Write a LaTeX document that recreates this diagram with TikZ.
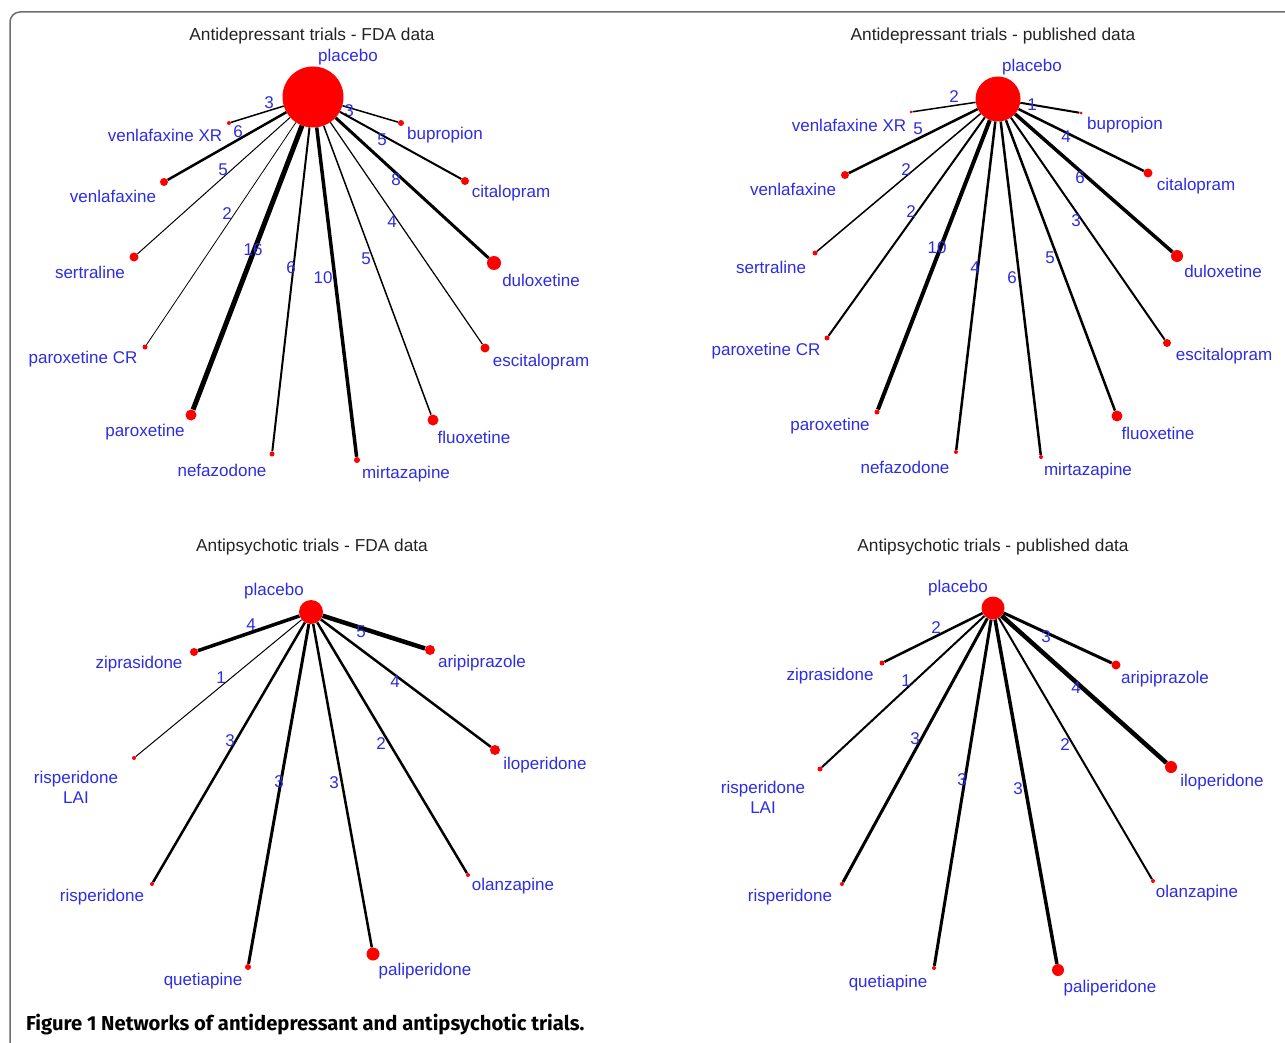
\documentclass[tikz,border=0pt]{standalone}
\usepackage{fontspec}
\setmainfont{Liberation Sans}
\newfontfamily\capfont{Fira Sans}
\definecolor{lblblue}{RGB}{45,45,225}
\definecolor{dotred}{RGB}{255,0,0}
\definecolor{framegray}{RGB}{110,110,110}
\definecolor{ttlgray}{RGB}{35,35,35}
\begin{document}
\begin{tikzpicture}[x=1pt,y=-1pt,
  dot/.style={circle,fill=dotred,inner sep=0pt,draw=none},
  lbl/.style={text=lblblue,font=\fontsize{17}{20}\selectfont,inner sep=0pt,align=center},
  num/.style={lbl},
  ttl/.style={text=ttlgray,font=\fontsize{17.3}{19}\selectfont,inner sep=0pt},
  capt/.style={font=\capfont\bfseries\fontsize{20.2}{22}\selectfont,inner sep=0pt,anchor=base west}]
\useasboundingbox (0,0) rectangle (1285,1043);
\fill[white] (0,0) rectangle (1285,1043);
\draw[framegray,line width=1.5pt,rounded corners=10pt] (1295,12) -- (10,12) -- (10,1055);

% ---------------- Panel A: Antidepressant FDA
\node[ttl] (a-t) at (312,36) {Antidepressant trials - FDA data};
\node[dot,minimum size=61pt] (a-pl) at (313,97) {};
\node[lbl] (a-pl-l) at (348,57) {placebo};
\foreach \id/\dx/\dy/\ds/\lx/\ly/\tx/\w/\ex/\ey/\nm in {
  vxr/229/123/4/165/135/venlafaxine XR/1.5/269/103/3,
  bup/401/123/6/445/135/bupropion/1.5/349/111/3,
  ven/164/182/8/113/196/venlafaxine/2.5/238/132/6,
  cit/465/181/8/511/193/citalopram/2/382/140/5,
  ser/134/257/9/90/272/sertraline/1/223/170/5,
  dul/494/263/14/541/280/duloxetine/3/396/180/8,
  pcr/145/347/5/83/359/paroxetine CR/0.8/227/214/2,
  esc/485/348/9/541/362/escitalopram/1.2/392/222/4,
  par/191/415/11/145/432/paroxetine/5/253/250/16,
  flu/433/420/11/474/437/fluoxetine/1.5/366/259/5,
  nef/272/454/5/222/470/nefazodone/2/291/268/6,
  mir/357/460/6/406/474/mirtazapine/3.5/323/278/10}
{
  \node[dot,minimum size=\ds pt] (a-\id) at (\dx,\dy) {};
  \node[lbl] (a-\id-l) at (\lx,\ly) {\tx};
  \draw[line width=\w pt] (a-pl) -- (a-\id);
  \node[num] (a-\id-n) at (\ex,\ey) {\nm};
}

% ---------------- Panel B: Antidepressant published
\node[ttl] (b-t) at (993,36) {Antidepressant trials - published data};
\node[dot,minimum size=45pt] (b-pl) at (998,99) {};
\node[lbl] (b-pl-l) at (1032,67) {placebo};
\foreach \id/\dx/\dy/\ds/\lx/\ly/\tx/\w/\ex/\ey/\nm in {
  vxr/911/112/3/849/125/venlafaxine XR/1.5/954/97/2,
  bup/1081/113/3/1125/125/bupropion/2/1032/105/1,
  ven/845/175/8/793/189/venlafaxine/2.5/918/129/5,
  cit/1148/173/9/1196/186/citalopram/2.5/1066/137/4,
  ser/815/253/5/771/267/sertraline/1.5/906/170/2,
  dul/1177/256/12/1223/271/duloxetine/3.5/1080/178/6,
  pcr/827/338/5/766/351/paroxetine CR/2/911/212/2,
  esc/1167/343/8/1224/356/escitalopram/2/1076/221/3,
  par/877/412/5/830/426/paroxetine/4/937/248/10,
  flu/1117/416/11/1158/433/fluoxetine/2.5/1050/258/5,
  nef/956/452/4/905/467/nefazodone/2.5/975/268/4,
  mir/1041/457/4/1088/471/mirtazapine/2.5/1012/278/6}
{
  \node[dot,minimum size=\ds pt] (b-\id) at (\dx,\dy) {};
  \node[lbl] (b-\id-l) at (\lx,\ly) {\tx};
  \draw[line width=\w pt] (b-pl) -- (b-\id);
  \node[num] (b-\id-n) at (\ex,\ey) {\nm};
}

% ---------------- Panel C: Antipsychotic FDA
\node[ttl] (c-t) at (312,547) {Antipsychotic trials - FDA data};
\node[dot,minimum size=24pt] (c-pl) at (311,612) {};
\node[lbl] (c-pl-l) at (274,591) {placebo};
\foreach \id/\dx/\dy/\ds/\lx/\ly/\tx/\w/\ex/\ey/\nm in {
  zip/194/652/8/139/664/ziprasidone/3.5/251/625/4,
  ari/430/650/10/482/663/aripiprazole/4.5/361/632/5,
  rla/134/758/4/76/787/risperidone\\LAI/1/221/678/1,
  ilo/495/750/10/545/765/iloperidone/2.5/395/682/4,
  ris/152/884/4/102/897/risperidone/2.5/230/741/3,
  ola/468/875/4/513/886/olanzapine/2.5/381/744/2,
  que/248/967/6/203/981/quetiapine/3/279/782/3,
  pal/373/954/13/425/971/paliperidone/2.5/334/783/3}
{
  \node[dot,minimum size=\ds pt] (c-\id) at (\dx,\dy) {};
  \node[lbl] (c-\id-l) at (\lx,\ly) {\tx};
  \draw[line width=\w pt] (c-pl) -- (c-\id);
  \node[num] (c-\id-n) at (\ex,\ey) {\nm};
}

% ---------------- Panel D: Antipsychotic published
\node[ttl] (d-t) at (993,547) {Antipsychotic trials - published data};
\node[dot,minimum size=23pt] (d-pl) at (993,608) {};
\node[lbl] (d-pl-l) at (958,588) {placebo};
\foreach \id/\dx/\dy/\ds/\lx/\ly/\tx/\w/\ex/\ey/\nm in {
  zip/882/663/5/830/676/ziprasidone/2.5/936/628/2,
  ari/1116/665/9/1165/679/aripiprazole/3/1046/637/3,
  rla/820/769/5/763/797/risperidone\\LAI/2/906/681/1,
  ilo/1171/767/12/1222/782/iloperidone/4.5/1076/688/4,
  ris/842/884/4/790/897/risperidone/3/915/739/3,
  ola/1153/881/4/1197/893/olanzapine/2/1065/745/2,
  que/934/968/4/888/983/quetiapine/3/962/780/3,
  pal/1058/970/12/1110/988/paliperidone/3.5/1018/789/3}
{
  \node[dot,minimum size=\ds pt] (d-\id) at (\dx,\dy) {};
  \node[lbl] (d-\id-l) at (\lx,\ly) {\tx};
  \draw[line width=\w pt] (d-pl) -- (d-\id);
  \node[num] (d-\id-n) at (\ex,\ey) {\nm};
}

% ---------------- Caption
\node[capt] (cap) at (26,1030) {Figure 1 Networks of antidepressant and antipsychotic trials.};
\end{tikzpicture}
\end{document}
